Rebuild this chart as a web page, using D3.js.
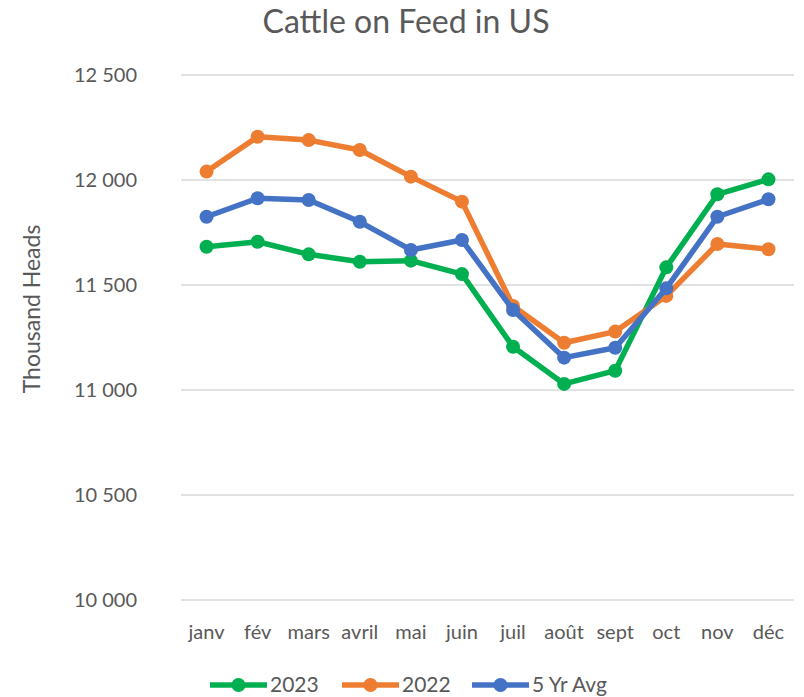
<!DOCTYPE html>
<html>
<head>
<meta charset="UTF-8">
<title>Cattle on Feed in US</title>
<script src="https://cdn.jsdelivr.net/npm/d3@7"></script>
<style>
  body { margin: 0; background: #fff; font-family: 'Lato', 'Open Sans', sans-serif; }
  svg text { fill: #595959; }
</style>
</head>
<body>
<div id="chart"></div>
<script>
// data
const months = ["janv", "fév", "mars", "avril", "mai", "juin", "juil", "août", "sept", "oct", "nov", "déc"];
const y2023 = [11682, 11706, 11646, 11611, 11616, 11552, 11206, 11029, 11092, 11584, 11932, 12003];
const y2022 = [12040, 12206, 12190, 12143, 12016, 11897, 11400, 11225, 11278, 11448, 11695, 11670];
const avg5 = [11825, 11913, 11905, 11801, 11667, 11714, 11381, 11154, 11201, 11484, 11825, 11908];
const yTicks = [10000, 10500, 11000, 11500, 12000, 12500];

const series = [
  { name: "2023", values: y2023, color: "#00b050" },
  { name: "2022", values: y2022, color: "#ed7d31" },
  { name: "5 Yr Avg", values: avg5, color: "#4472c4" }
];

const width = 804, height = 697;
const margin = { top: 75, right: 10, bottom: 97, left: 181 };

const svg = d3.select("#chart").append("svg")
  .attr("width", width)
  .attr("height", height);

const x = d3.scalePoint()
  .domain(months)
  .range([margin.left, width - margin.right])
  .padding(0.5);

const y = d3.scaleLinear()
  .domain([10000, 12500])
  .range([height - margin.bottom, margin.top]);

const fmt = d => d3.format(",")(d).replace(",", " ");

// gridlines
svg.append("g")
  .selectAll("line")
  .data(yTicks)
  .join("line")
  .attr("x1", margin.left)
  .attr("x2", width - margin.right)
  .attr("y1", d => y(d))
  .attr("y2", d => y(d))
  .attr("stroke", "#d9d9d9")
  .attr("stroke-width", 1.5);

// y tick labels
svg.append("g")
  .selectAll("text")
  .data(yTicks)
  .join("text")
  .attr("x", 137)
  .attr("y", d => y(d))
  .attr("dy", "0.35em")
  .attr("text-anchor", "end")
  .style("font-size", "20px")
  .text(fmt);

// x labels
svg.append("g")
  .selectAll("text")
  .data(months)
  .join("text")
  .attr("x", d => x(d))
  .attr("y", 639)
  .attr("text-anchor", "middle")
  .style("font-size", "20px")
  .text(d => d);

// title
svg.append("text")
  .attr("x", 406)
  .attr("y", 33)
  .attr("text-anchor", "middle")
  .style("font-size", "32px")
  .text("Cattle on Feed in US");

// y axis title
svg.append("text")
  .attr("transform", "translate(40,309) rotate(-90)")
  .attr("text-anchor", "middle")
  .style("font-size", "23px")
  .text("Thousand Heads");

const line = d3.line()
  .x((d, i) => x(months[i]))
  .y(d => y(d));

// lines and markers
series.forEach(s => {
  const g = svg.append("g");
  g.append("path")
    .datum(s.values)
    .attr("d", line)
    .attr("fill", "none")
    .attr("stroke", s.color)
    .attr("stroke-width", 5.5)
    .attr("stroke-linejoin", "round");
  g.selectAll("circle")
    .data(s.values)
    .join("circle")
    .attr("cx", (d, i) => x(months[i]))
    .attr("cy", d => y(d))
    .attr("r", 7)
    .attr("fill", s.color);
});

// legend
const legendX = [210, 342, 472];
const legend = svg.append("g")
  .selectAll("g")
  .data(series)
  .join("g")
  .attr("transform", (d, i) => "translate(" + legendX[i] + ",685)");
legend.append("line")
  .attr("x1", 0).attr("x2", 57)
  .attr("stroke", d => d.color)
  .attr("stroke-width", 5.5);
legend.append("circle")
  .attr("cx", 28.5)
  .attr("r", 7)
  .attr("fill", d => d.color);
legend.append("text")
  .attr("x", 60)
  .attr("dy", "0.35em")
  .style("font-size", "21px")
  .text(d => d.name);
</script>
</body>
</html>
